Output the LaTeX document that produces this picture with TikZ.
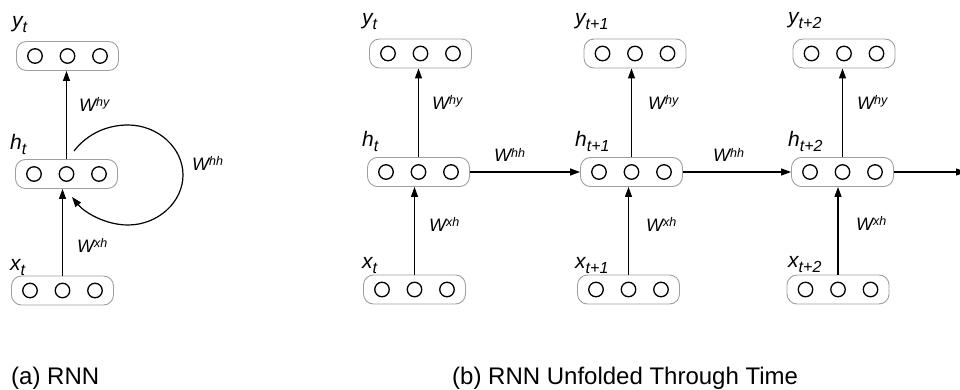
\documentclass[tikz,border=0pt]{standalone}
\usepackage{fontspec}
\setmainfont{Liberation Sans}
\usetikzlibrary{arrows.meta}
\tikzset{
  layerbox/.style={draw=black!38, line width=0.9pt, rounded corners=10pt, minimum width=102pt, minimum height=29pt, inner sep=0pt},
  unit/.style={circle, draw=black, line width=1.3pt, minimum size=14.5pt, inner sep=0pt},
  arr/.style={line width=1.2pt, -{Triangle[length=10pt,width=7pt]}},
  vlab/.style={anchor=base west, inner sep=0pt, font=\fontsize{21}{21}\selectfont\itshape},
  wlab/.style={anchor=base west, inner sep=0pt, font=\fontsize{18}{18}\selectfont\itshape},
  caplab/.style={anchor=base west, inner sep=0pt, font=\fontsize{24}{24}\selectfont}
}
\newcommand\rnnlayer[3]{%
  \node[layerbox] (#1) at (#2,#3) {};
  \node[unit] (#1-a) at ([xshift=-32.5pt]#1.center) {};
  \node[unit] (#1-b) at (#1.center) {};
  \node[unit] (#1-c) at ([xshift=32.5pt]#1.center) {};
}
\newcommand\vsub[2]{#1\raisebox{-5pt}{\fontsize{16}{16}\selectfont #2}}
\newcommand\wsup[1]{W\raisebox{5pt}{\fontsize{12.5}{12.5}\selectfont #1}}
\begin{document}
\begin{tikzpicture}[x=1pt,y=-1pt]
\useasboundingbox (0,0) rectangle (960,390);
% (a) RNN
\rnnlayer{ya}{67.5}{56}
\rnnlayer{ha}{66.5}{174}
\rnnlayer{xa}{62.5}{290.5}
\node[vlab] (lya) at (12,28) {\vsub{y}{t}};
\node[vlab] (lha) at (10,150) {\vsub{h}{t}};
\node[vlab] (lxa) at (10,270) {\vsub{x}{t}};
\draw[arr] (ha.north) -- (ha.north |- ya.south);
\draw[arr] (xa.north) -- (xa.north |- ha.south);
\node[wlab] (wa1) at (79,112) {\wsup{hy}};
\node[wlab] (wa2) at (192,171) {\wsup{hh}};
\node[wlab] (wa3) at (77,252) {\wsup{xh}};
\coordinate (loopA) at (74,151);
\coordinate (loopB) at (72,197);
\draw[arr] (loopA) .. controls (88,133) and (108,125) .. (128,125)
  .. controls (158,125) and (183,148) .. (183,175)
  .. controls (183,202) and (158,225) .. (128,225)
  .. controls (105,225) and (84,212) .. (loopB);
% (b) unfolded
\rnnlayer{y1}{420.5}{53.5}
\rnnlayer{h1}{418.5}{172}
\rnnlayer{x1}{414.5}{289.5}
\rnnlayer{y2}{635}{53.5}
\rnnlayer{h2}{631.5}{172}
\rnnlayer{x2}{628.5}{289.5}
\rnnlayer{y3}{844}{53.5}
\rnnlayer{h3}{842.5}{172}
\rnnlayer{x3}{838}{289.5}
\node[vlab] (ly1) at (362,25) {\vsub{y}{t}};
\node[vlab] (lh1) at (362,147) {\vsub{h}{t}};
\node[vlab] (lx1) at (362,268) {\vsub{x}{t}};
\node[vlab] (ly2) at (575,25) {\vsub{y}{t+1}};
\node[vlab] (lh2) at (575,147) {\vsub{h}{t+1}};
\node[vlab] (lx2) at (575,268) {\vsub{x}{t+1}};
\node[vlab] (ly3) at (788,24) {\vsub{y}{t+2}};
\node[vlab] (lh3) at (788,147) {\vsub{h}{t+2}};
\node[vlab] (lx3) at (788,267) {\vsub{x}{t+2}};
\foreach \i in {1,2,3}{
  \draw[arr] (h\i.north) -- (h\i.north |- y\i.south);
  \draw[arr] (x\i.north) -- (x\i.north |- h\i.south);
}
\draw[arr] (h1.east) -- (h2.west);
\draw[arr] (h2.east) -- (h3.west);
\coordinate (outR) at (966,172);
\draw[arr] (h3.east) -- (outR);
\node[wlab] (w1a) at (432,110) {\wsup{hy}};
\node[wlab] (w1b) at (429,231) {\wsup{xh}};
\node[wlab] (w1c) at (494,162) {\wsup{hh}};
\node[wlab] (w2a) at (648,110) {\wsup{hy}};
\node[wlab] (w2b) at (646,231) {\wsup{xh}};
\node[wlab] (w2c) at (713,162) {\wsup{hh}};
\node[wlab] (w3a) at (857,110) {\wsup{hy}};
\node[wlab] (w3b) at (856,230) {\wsup{xh}};
% captions
\node[caplab] (capa) at (11,384) {(a) RNN};
\node[caplab] (capb) at (452,384) {(b) RNN Unfolded Through Time};
\end{tikzpicture}
\end{document}
